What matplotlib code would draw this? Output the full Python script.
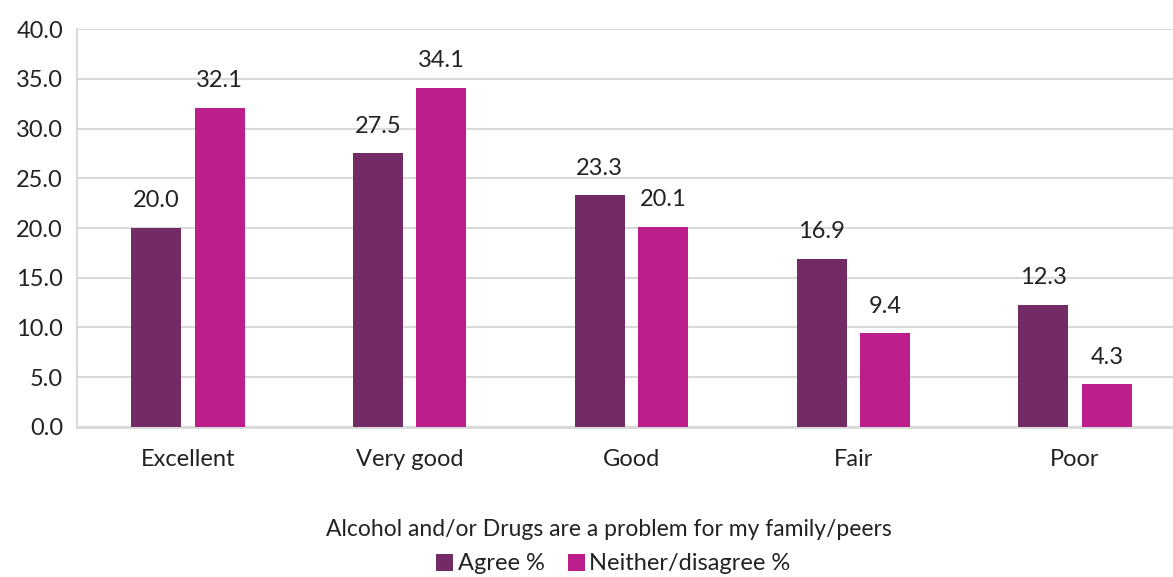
import matplotlib.pyplot as plt
import numpy as np

categories = ["Excellent", "Very good", "Good", "Fair", "Poor"]
agree = [20.0, 27.5, 23.3, 16.9, 12.3]
neither = [32.1, 34.1, 20.1, 9.4, 4.3]
series_names = ["Agree %", "Neither/disagree %"]

plt.rcParams["font.family"] = ["Lato", "DejaVu Sans"]
plt.rcParams["font.size"] = 17

fig = plt.figure(figsize=(11.73, 5.77), dpi=100)
ax = fig.add_axes([0.0656, 0.26, 0.9455, 0.6897])

x = np.arange(len(categories))
w = 0.225
off = 0.143
b1 = ax.bar(x - off, agree, w, color="#722B65", label=series_names[0], zorder=3)
b2 = ax.bar(x + off, neither, w, color="#BC1E8B", label=series_names[1], zorder=3)

for bars in (b1, b2):
    for rect in bars:
        h = rect.get_height()
        ax.annotate(f"{h:.1f}", (rect.get_x() + rect.get_width() / 2, h),
                    xytext=(0, 12), textcoords="offset points",
                    ha="center", va="bottom", fontsize=17, color="#222222")

ax.set_xlim(-0.5, len(categories) - 0.5)
ax.set_ylim(0, 40)
ax.set_yticks(np.arange(0, 40.1, 5))
ax.set_yticklabels([f"{v:.1f}" for v in np.arange(0, 40.1, 5)])
ax.set_xticks(x)
ax.set_xticklabels(categories)
ax.tick_params(axis="both", length=0, colors="#222222", labelsize=17)
ax.tick_params(axis="x", pad=16)
ax.tick_params(axis="y", pad=10)
ax.grid(axis="y", color="#D9D9D9", linewidth=1.5, zorder=0)
for s in ("top", "right"):
    ax.spines[s].set_visible(False)
ax.spines["left"].set_color("#D9D9D9")
ax.spines["left"].set_linewidth(1.5)
ax.spines["bottom"].set_color("#D9D9D9")
ax.spines["bottom"].set_linewidth(2)

fig.text(0.519, 1 - 530 / 577, "Alcohol and/or Drugs are a problem for my family/peers",
         ha="center", va="center", fontsize=16.5, color="#222222")
fig.legend(handles=[b1, b2], loc="center", bbox_to_anchor=(0.523, 1 - 564 / 577),
           ncol=2, frameon=False, fontsize=17, handlelength=0.7, handleheight=0.7,
           handletextpad=0.2, columnspacing=1.0, labelcolor="#222222")

fig.savefig("out.png", dpi=100)
